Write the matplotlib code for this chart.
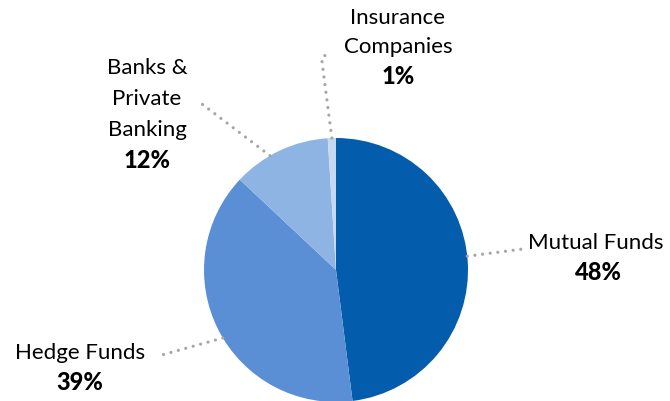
import matplotlib
matplotlib.use("Agg")
import matplotlib.pyplot as plt
import numpy as np

categories = ["Mutual Funds", "Hedge Funds", "Banks &\nPrivate\nBanking", "Insurance\nCompanies"]
values = [48, 39, 12, 1]
pct_labels = ["48%", "39%", "12%", "1%"]
colors = ["#035DAC", "#5A8FD6", "#8EB4E3", "#C6D9F1"]

plt.rcParams['font.family'] = ['Lato', 'DejaVu Sans']

W, H = 670, 401
fig = plt.figure(figsize=(W / 100, H / 100), dpi=100)
ax = fig.add_axes([0, 0, 1, 1])

cx, cy, r = 336, H - 270, 132
wedges, _ = ax.pie(values, colors=colors, startangle=90, counterclock=False,
                   center=(cx, cy), radius=r,
                   wedgeprops=dict(edgecolor='none', linewidth=0))
ax.set_xlim(0, W)
ax.set_ylim(0, H)
ax.set_aspect('equal')
ax.axis('off')

def Y(y):
    return H - y

dot = dict(color='#A6A6A6', linewidth=2.3, linestyle=(0, (0.01, 2.4)),
           dash_capstyle='round', solid_capstyle='round')

def edge_point(i, frac=0.5):
    w = wedges[i]
    ang = np.deg2rad(w.theta1 + (w.theta2 - w.theta1) * frac)
    return cx + r * np.cos(ang), cy + r * np.sin(ang)

# leader lines
x0, y0 = cx + r * np.cos(np.deg2rad(6)), cy + r * np.sin(np.deg2rad(6))
ax.plot([x0, 523], [y0, Y(249)], **dot)
x0, y0 = cx + r * np.cos(np.deg2rad(211)), cy + r * np.sin(np.deg2rad(211))
ax.plot([x0, 158], [y0, Y(356)], **dot)
x0, y0 = cx + r * np.cos(np.deg2rad(120)), cy + r * np.sin(np.deg2rad(120))
ax.plot([x0, 198], [y0, Y(101)], **dot)
x0, y0 = edge_point(3, 0.5)
ax.plot([x0, 322, 323, 332], [y0, Y(62), Y(56), Y(54)], **dot)

fs = 16
txt = dict(ha='center', va='center', fontsize=fs, color='black')
bold = dict(ha='center', va='center', fontsize=17, color='black', fontweight='black')

# Mutual Funds
ax.text(596, Y(243), categories[0], **txt)
ax.text(598, Y(272), pct_labels[0], **bold)
# Hedge Funds
ax.text(80, Y(353), categories[1], **txt)
ax.text(80, Y(383), pct_labels[1], **bold)
# Banks
for k, line in enumerate(categories[2].split("\n")):
    ax.text(147, Y(68 + 31 * k), line, **txt)
ax.text(147, Y(160), pct_labels[2], **bold)
# Insurance
for k, line in enumerate(categories[3].split("\n")):
    ax.text(398, Y(18 + 29 * k), line, **txt)
ax.text(398, Y(77), pct_labels[3], **bold)

fig.savefig("out.png", dpi=100)
